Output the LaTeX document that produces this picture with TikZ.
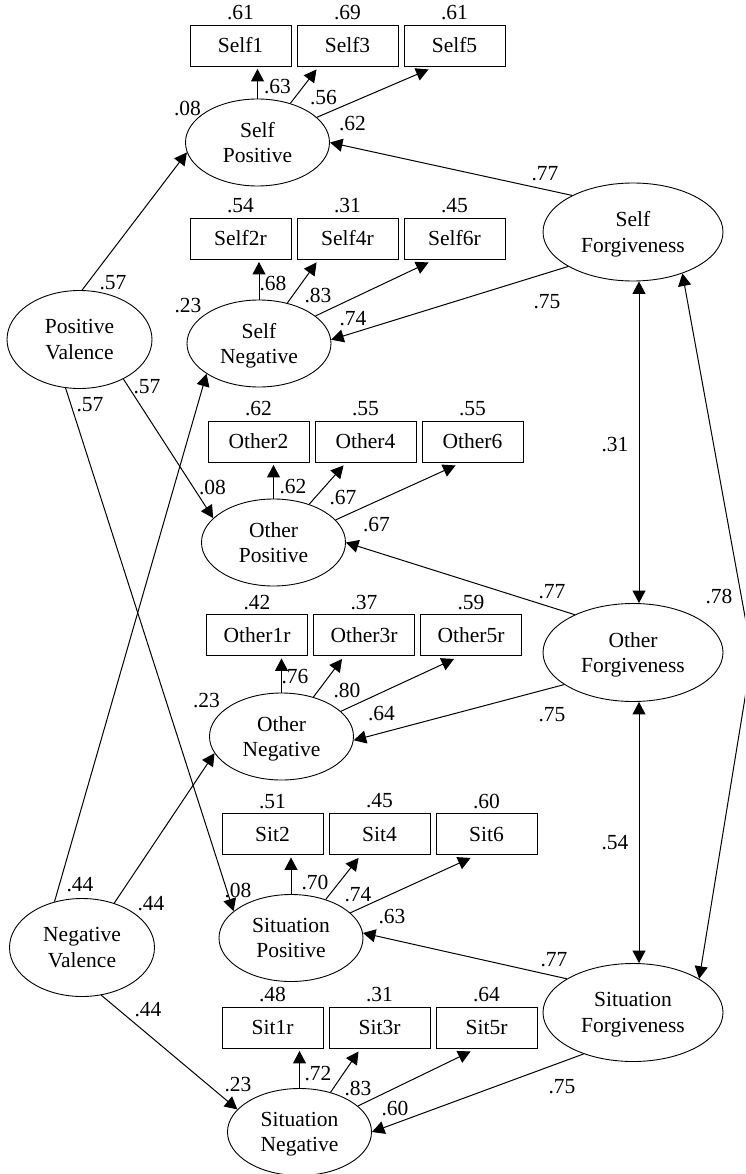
\documentclass[tikz,border=0pt]{standalone}
\usepackage{fontspec}
\setmainfont{Liberation Serif}
\usetikzlibrary{shapes.geometric,arrows.meta,calc}
\begin{document}
\begin{tikzpicture}[x=1pt,y=-1pt,
  every node/.style={font=\fontsize{21.5}{25.5}\selectfont},
  lat/.style={ellipse,draw,line width=0.9pt,minimum width=144pt,minimum height=87pt,inner sep=0pt,align=center,text depth=0pt},
  fac/.style={lat,minimum width=180pt,minimum height=98pt},
  val/.style={lat,minimum width=145pt,minimum height=98pt},
  obs/.style={rectangle,draw,line width=0.9pt,minimum width=101pt,minimum height=41pt,inner sep=0pt},
  lab/.style={inner sep=0pt},
  arr/.style={line width=1pt,-{Triangle[length=12.5pt,width=13pt]}},
  darr/.style={line width=1pt,{Triangle[length=12.5pt,width=13pt]}-{Triangle[length=12.5pt,width=13pt]}}
]
\useasboundingbox (0,0) rectangle (745,1174);

% latent variables
\node[lat] (SP) at (257.5,142.5) {Self\\Positive};
\node[lat] (SN) at (259,343.5) {Self\\Negative};
\node[lat] (OP) at (273.5,542.5) {Other\\Positive};
\node[lat] (ON) at (281.5,736.5) {Other\\Negative};
\node[lat] (TP) at (291,938) {Situation\\Positive};
\node[lat] (TN) at (299.5,1132) {Situation\\Negative};
\node[fac] (SF) at (633,232) {Self\\Forgiveness};
\node[fac] (OF) at (633,652.5) {Other\\Forgiveness};
\node[fac] (TF) at (633,1012.5) {Situation\\Forgiveness};
\node[val] (PV) at (79.5,339.5) {Positive\\Valence};
\node[val] (NV) at (82,947.5) {Negative\\Valence};

% observed variables
\node[obs] (s1) at (240.5,45.5) {Self1};
\node[obs] (s3) at (347.5,45.5) {Self3};
\node[obs] (s5) at (454.5,45.5) {Self5};
\node[obs] (s2r) at (240.5,238.5) {Self2r};
\node[obs] (s4r) at (347.5,238.5) {Self4r};
\node[obs] (s6r) at (454.5,238.5) {Self6r};
\node[obs] (o2) at (258.5,441.5) {Other2};
\node[obs] (o4) at (365.5,441.5) {Other4};
\node[obs] (o6) at (472.5,441.5) {Other6};
\node[obs] (o1r) at (257,635) {Other1r};
\node[obs] (o3r) at (364,635) {Other3r};
\node[obs] (o5r) at (471,635) {Other5r};
\node[obs] (t2) at (272.5,834) {Sit2};
\node[obs] (t4) at (379.5,834) {Sit4};
\node[obs] (t6) at (486.5,834) {Sit6};
\node[obs] (t1r) at (272.5,1027.5) {Sit1r};
\node[obs] (t3r) at (379.5,1027.5) {Sit3r};
\node[obs] (t5r) at (486.5,1027.5) {Sit5r};

% values above boxes
\node[lab] (bs1) at ($(s1.north)+(0,-12)$) {.61};
\node[lab] (bs3) at ($(s3.north)+(0,-12)$) {.69};
\node[lab] (bs5) at ($(s5.north)+(0,-12)$) {.61};
\node[lab] (bs2r) at ($(s2r.north)+(0,-12)$) {.54};
\node[lab] (bs4r) at ($(s4r.north)+(0,-12)$) {.31};
\node[lab] (bs6r) at ($(s6r.north)+(0,-12)$) {.45};
\node[lab] (bo2) at ($(o2.north)+(0,-12)$) {.62};
\node[lab] (bo4) at ($(o4.north)+(0,-12)$) {.55};
\node[lab] (bo6) at ($(o6.north)+(0,-12)$) {.55};
\node[lab] (bo1r) at ($(o1r.north)+(0,-12)$) {.42};
\node[lab] (bo3r) at ($(o3r.north)+(0,-12)$) {.37};
\node[lab] (bo5r) at ($(o5r.north)+(0,-12)$) {.59};
\node[lab] (bt2) at ($(t2.north)+(0,-12)$) {.51};
\node[lab] (bt4) at ($(t4.north)+(0,-12)$) {.45};
\node[lab] (bt6) at ($(t6.north)+(0,-12)$) {.60};
\node[lab] (bt1r) at ($(t1r.north)+(0,-12)$) {.48};
\node[lab] (bt3r) at ($(t3r.north)+(0,-12)$) {.31};
\node[lab] (bt5r) at ($(t5r.north)+(0,-12)$) {.64};

% loadings (latent -> indicators)
\draw[arr,shorten >=2.5pt] (SP.north) -- (SP.north |- s1.south);
\draw[arr] (SP.50) -- ($(s3.south west)+(20,3)$);
\draw[arr] (SP.23) -- ($(s5.south west)+(25,3)$);
\draw[arr,shorten >=2.5pt] (SN.north) -- (SN.north |- s2r.south);
\draw[arr] (SN.55) -- ($(s4r.south west)+(20,3)$);
\draw[arr] (SN.26) -- ($(s6r.south west)+(25,3)$);
\draw[arr,shorten >=2.5pt] (OP.north) -- (OP.north |- o2.south);
\draw[arr] (OP.47) -- ($(o4.south west)+(29,3)$);
\draw[arr] (OP.20) -- ($(o6.south west)+(34,3)$);
\draw[arr,shorten >=2.5pt] (ON.north) -- (ON.north |- o1r.south);
\draw[arr] (ON.51) -- ($(o3r.south west)+(29,3)$);
\draw[arr] (ON.23) -- ($(o5r.south west)+(34,3)$);
\draw[arr,shorten >=2.5pt] (TP.north) -- (TP.north |- t2.south);
\draw[arr] (TP.48) -- ($(t4.south west)+(30,3)$);
\draw[arr] (TP.23) -- ($(t6.south west)+(35,3)$);
\draw[arr,shorten >=2.5pt] (TN.north) -- (TN.north |- t1r.south);
\draw[arr] (TN.52) -- ($(t3r.south west)+(30,3)$);
\draw[arr] (TN.24) -- ($(t5r.south west)+(35,3)$);

% loading labels
\node[lab] (lsp1) at ($(SP)+(20,-56)$) {.63};
\node[lab] (lsp2) at ($(SP)+(66,-45)$) {.56};
\node[lab] (lsp3) at ($(SP)+(95,-19)$) {.62};
\node[lab] (lsp0) at ($(SP)+(-70,-34)$) {.08};
\node[lab] (lsn1) at ($(SN)+(14,-60)$) {.68};
\node[lab] (lsn2) at ($(SN)+(59,-48)$) {.83};
\node[lab] (lsn3) at ($(SN)+(94,-25)$) {.74};
\node[lab] (lsn0) at ($(SN)+(-71,-38)$) {.23};
\node[lab] (lop1) at ($(OP)+(19.5,-55.5)$) {.62};
\node[lab] (lop2) at ($(OP)+(69.5,-44.5)$) {.67};
\node[lab] (lop3) at ($(OP)+(103,-18)$) {.67};
\node[lab] (lop0) at ($(OP)+(-61,-55)$) {.08};
\node[lab] (lon1) at ($(ON)+(13.5,-59.5)$) {.76};
\node[lab] (lon2) at ($(ON)+(65.5,-46.5)$) {.80};
\node[lab] (lon3) at ($(ON)+(100,-23)$) {.64};
\node[lab] (lon0) at ($(ON)+(-75,-36)$) {.23};
\node[lab] (ltp1) at ($(TP)+(24,-56)$) {.70};
\node[lab] (ltp2) at ($(TP)+(67,-43)$) {.74};
\node[lab] (ltp3) at ($(TP)+(101,-21)$) {.63};
\node[lab] (ltp0) at ($(TP)+(-53,-48)$) {.08};
\node[lab] (ltn1) at ($(TN)+(18.5,-58)$) {.72};
\node[lab] (ltn2) at ($(TN)+(58.5,-44)$) {.83};
\node[lab] (ltn3) at ($(TN)+(95.5,-24)$) {.60};
\node[lab] (ltn0) at ($(TN)+(-61.5,-47)$) {.23};

% forgiveness -> latent
\draw[arr] (SF.149) -- (SP.east);
\draw[arr] (SF.208) -- (SN.3);
\draw[arr] (OF.147) -- (OP.east);
\draw[arr] (OF.205) -- (ON.-3);
\draw[arr] (TF.153) -- (TP.4);
\draw[arr] (TF.220) -- (TN.east);

% valence -> latent
\draw[arr] (PV.87) -- (SP.188);
\draw[arr] (PV.-42) -- (OP.158);
\draw[arr] (PV.-106) -- (TP.155);
\draw[arr] (NV.121) -- (SN.210);
\draw[arr] (NV.54) -- (ON.194);
\draw[arr] (NV.-68) -- (TN.160);

% correlations among forgiveness factors
\coordinate (vx) at (639,0);
\draw[darr] (SF.south -| vx) -- (OF.north -| vx);
\draw[darr] (OF.south -| vx) -- (TF.north -| vx);
\coordinate (apex) at (752,655);
\begin{scope}
\clip (0,0) rectangle (745,1174);
\draw[darr] (SF.-40) -- (apex) -- (TF.27);
\end{scope}

% path labels
\node[lab] (lpv1) at (113,283) {.57};
\node[lab] (lpv2) at (147,387) {.57};
\node[lab] (lpv3) at (90,405) {.57};
\node[lab] (lnv1) at (80,885) {.44};
\node[lab] (lnv2) at (151,904) {.44};
\node[lab] (lnv3) at (148,1010) {.44};
\node[lab] (lsf1) at (545,174) {.77};
\node[lab] (lsf2) at (547,302) {.75};
\node[lab] (lof1) at (552,592) {.77};
\node[lab] (lof2) at (552,715) {.75};
\node[lab] (ltf1) at (554,960) {.77};
\node[lab] (ltf2) at (562,1087) {.75};
\node[lab] (lc1) at (615,445) {.31};
\node[lab] (lc2) at (615,843) {.54};
\node[lab] (lc3) at (719,596) {.78};
\end{tikzpicture}
\end{document}
